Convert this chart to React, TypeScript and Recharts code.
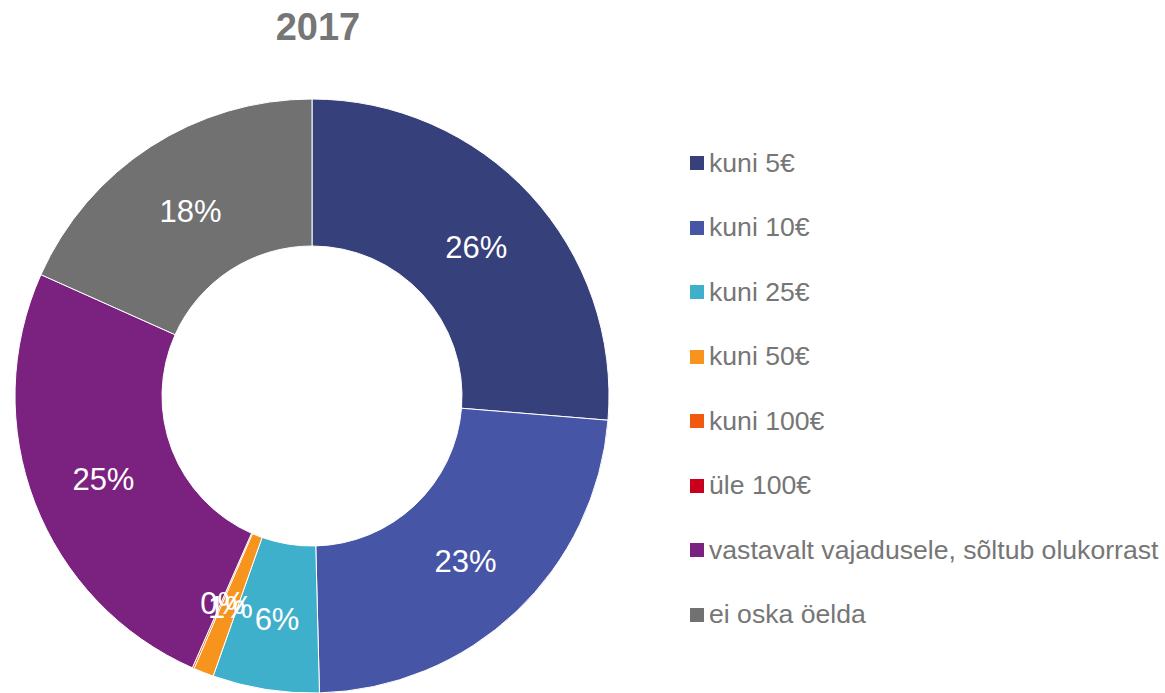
import React from 'react';
import { PieChart, Pie, Cell, Legend, Customized } from 'recharts';

const categories = ['kuni 5€', 'kuni 10€', 'kuni 25€', 'kuni 50€', 'kuni 100€', 'üle 100€', 'vastavalt vajadusele, sõltub olukorrast', 'ei oska öelda'];
const values = [26.3, 23.3, 5.8, 1.1, 0.1, 0, 25.1, 18.3];
const colors = ['#36407B', '#4655A6', '#3FB0CC', '#F7941E', '#F15A0E', '#C8001E', '#7B2280', '#717171'];
const title = '2017';

const data = categories.map((name, i) => ({ name, value: values[i] }));
const FONT = '"Liberation Sans", Arial, sans-serif';
const RAD = Math.PI / 180;

const renderLabel = (p: any) => {
  const { cx, cy, midAngle, innerRadius, outerRadius, value } = p;
  if (!(value > 0)) return null;
  const r = (innerRadius + outerRadius) / 2;
  const x = cx + r * Math.cos(-midAngle * RAD);
  const y = cy + r * Math.sin(-midAngle * RAD) + 3;
  return (
    <text x={x} y={y} fill="#ffffff" fontSize={31} fontFamily={FONT} textAnchor="middle" dominantBaseline="central">
      {`${Math.round(value)}%`}
    </text>
  );
};

const renderLegend = () => (
  <div style={{ fontFamily: FONT }}>
    {categories.map((c, i) => (
      <div key={c} style={{ display: 'flex', alignItems: 'center', height: 64.5 }}>
        <div style={{ width: 14, height: 14, background: colors[i], marginRight: 5 }} />
        <span style={{ fontSize: 26.6, color: '#767676', whiteSpace: 'nowrap' }}>{c}</span>
      </div>
    ))}
  </div>
);

export default function App() {
  return (
    <div style={{ position: 'absolute', left: 0, top: 0, background: '#fff' }}>
      <PieChart width={1165} height={693} margin={{ top: 0, right: 0, bottom: 0, left: 0 }}>
        <Customized
          component={() => (
            <text x={318} y={27} textAnchor="middle" dominantBaseline="central" fontSize={38} fontWeight="bold" fill="#767676" fontFamily={FONT}>
              {title}
            </text>
          )}
        />
        <Pie
          data={data}
          dataKey="value"
          nameKey="name"
          cx={312}
          cy={396}
          innerRadius={150}
          outerRadius={297}
          startAngle={90}
          endAngle={-270}
          stroke="#ffffff"
          strokeWidth={1}
          label={renderLabel}
          labelLine={false}
          isAnimationActive={false}
        >
          {data.map((d, i) => (
            <Cell key={d.name} fill={colors[i]} />
          ))}
        </Pie>
        <Legend content={renderLegend} wrapperStyle={{ left: 690, top: 131, width: 475 }} />
      </PieChart>
    </div>
  );
}
